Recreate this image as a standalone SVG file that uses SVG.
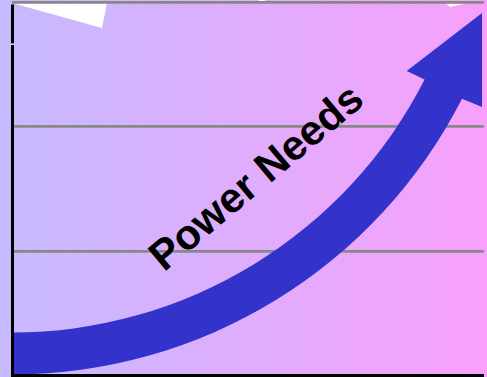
<svg xmlns="http://www.w3.org/2000/svg" width="487" height="377" viewBox="0 0 487 377">
  <defs>
    <linearGradient id="bg" x1="0" y1="0" x2="1" y2="0">
      <stop offset="0" stop-color="#c6baff"/>
      <stop offset="1" stop-color="#f8a0fb"/>
    </linearGradient>
  </defs>
  <style>
    .grid { stroke: #888888; stroke-width: 2.7; fill: none; }
    .axis { stroke: #000000; stroke-width: 3; fill: none; }
    .blue { fill: #3333cc; }
    .label { font-family: "Liberation Sans", Arial, sans-serif; font-weight: bold; font-size: 42px; fill: #000000; }
  </style>
  <rect x="0" y="0" width="487" height="377" fill="url(#bg)"/>
  <g id="decor">
    <polygon points="12,3 107,3 102,28" fill="#ffffff"/>
    <polygon points="258,0 267,0 261,1.5" fill="#ffffff"/>
    <polygon points="446,3.5 466,3.5 450,7" fill="#ffffff"/>
  </g>
  <g id="grid">
    <line class="grid" x1="12" y1="2.4" x2="484" y2="2.4"/>
    <line class="grid" x1="12" y1="126.4" x2="484" y2="126.4"/>
    <line class="grid" x1="12" y1="251.3" x2="484" y2="251.3"/>
  </g>
  <g id="growth-arrow">
    <path class="blue" d="M12,332.5 A463.1,463.1 0 0 0 424.6,79.6 L406.7,71 L482,13 L482,107 L462,98.7 A505.1,505.1 0 0 1 12,374.5 Z"/>
  </g>
  <g id="axes">
    <line class="axis" x1="12.5" y1="4.5" x2="12.5" y2="377"/>
    <line x1="11" y1="44.2" x2="14" y2="44.2" stroke="#e4dcff" stroke-width="1.6"/>
    <line class="axis" x1="11" y1="375.5" x2="484" y2="375.5"/>
  </g>
  <g id="label">
    <text class="label" x="164" y="272.5" transform="rotate(-40 164 272.5)">Power Needs</text>
  </g>
</svg>
